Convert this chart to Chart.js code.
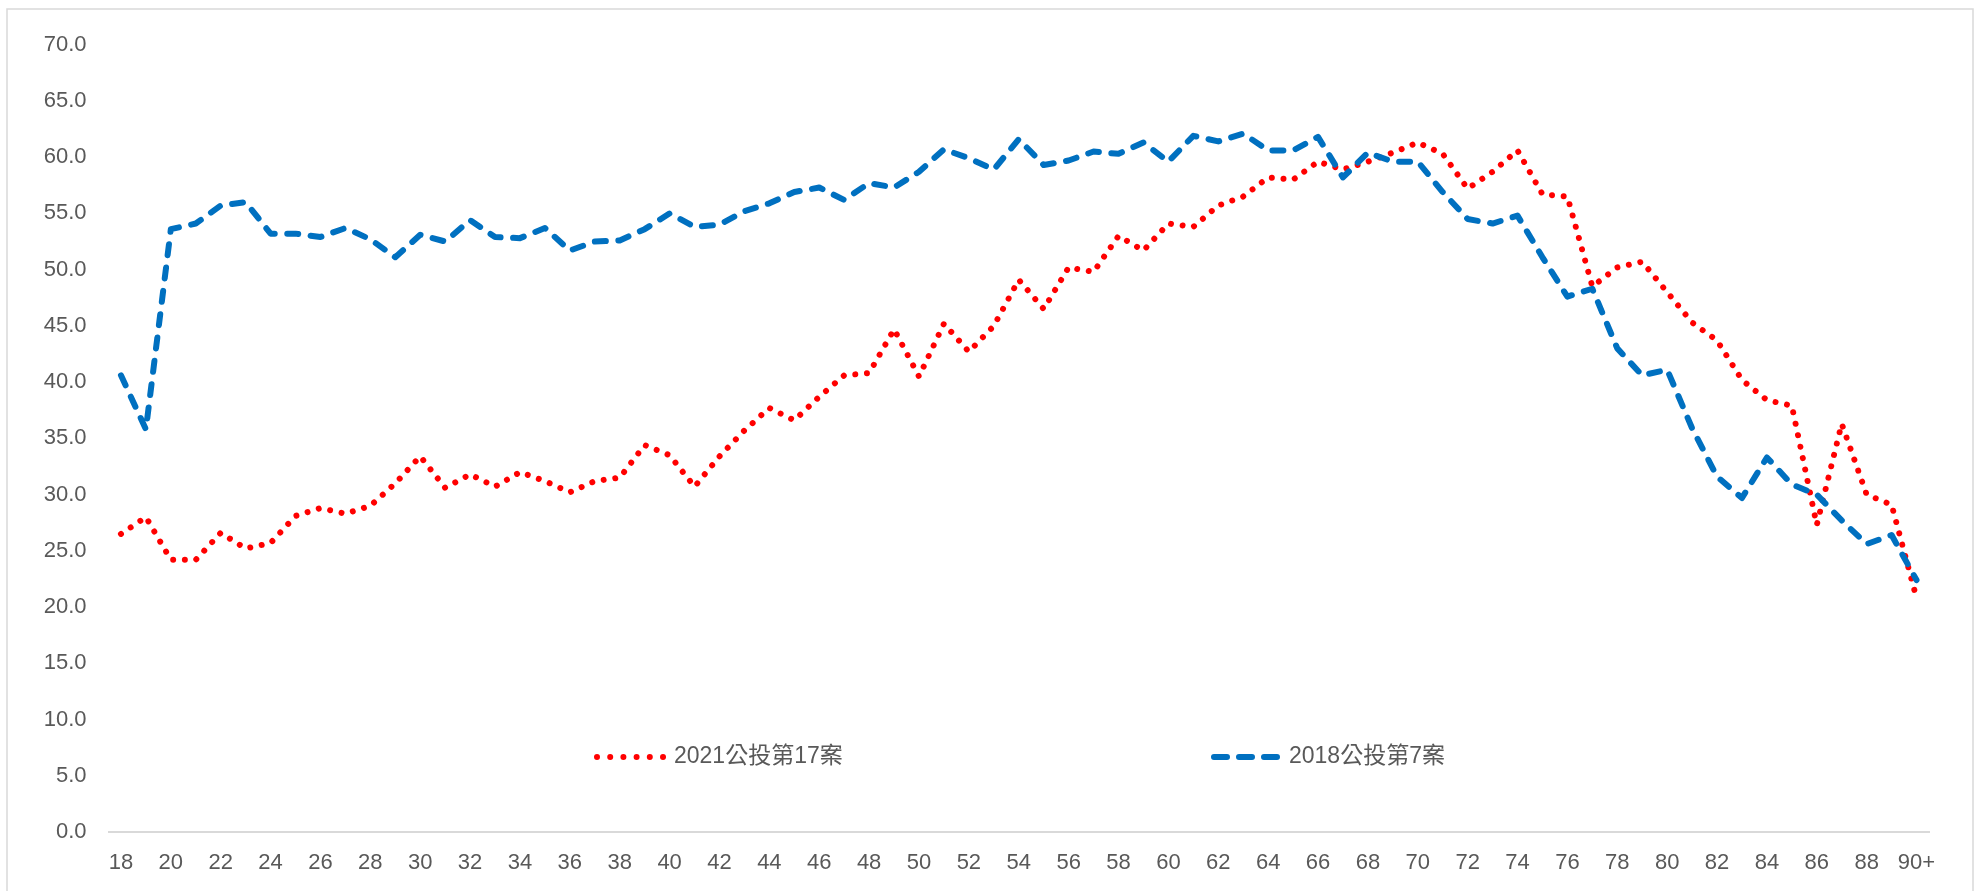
<!DOCTYPE html>
<html>
<head>
<meta charset="utf-8">
<script src="https://cdn.jsdelivr.net/npm/chart.js@4"></script>
<style>
  html, body { margin: 0; padding: 0; background: #fff; overflow: hidden; }
  #wrap { width: 1975px; height: 891px; position: relative; }
</style>
</head>
<body>
<div id="wrap"><canvas id="chart"></canvas></div>
<script>
// age groups (x categories)
const ages = ['18','19','20','21','22','23','24','25','26','27','28','29','30','31','32','33','34','35',
  '36','37','38','39','40','41','42','43','44','45','46','47','48','49','50','51','52','53',
  '54','55','56','57','58','59','60','61','62','63','64','65','66','67','68','69','70','71',
  '72','73','74','75','76','77','78','79','80','81','82','83','84','85','86','87','88','89','90+'];

const seriesNames = ['2021公投第17案', '2018公投第7案'];

// 2021 referendum case 17 (red dotted)
const vote2021 = [26.5, 28.0, 24.2, 24.2, 26.6, 25.2, 25.7, 28.1, 28.8, 28.3, 29.0, 31.0, 33.4, 30.6, 31.8, 30.7, 32.0, 31.2,
  30.2, 31.2, 31.5, 34.4, 33.5, 30.7, 33.4, 35.7, 37.7, 36.6, 38.7, 40.6, 40.8, 44.7, 40.5, 45.2, 42.7, 45.0,
  49.1, 46.5, 50.2, 49.8, 53.0, 51.7, 54.1, 53.8, 55.7, 56.5, 58.2, 58.0, 59.6, 58.9, 59.6, 60.4, 61.3, 60.3,
  57.2, 58.7, 60.6, 56.7, 56.5, 48.5, 50.2, 50.7, 48.0, 45.3, 43.7, 40.2, 38.4, 37.9, 27.3, 36.3, 30.0, 29.1, 20.8];

// 2018 referendum case 7 (blue dashed)
const vote2018 = [40.6, 35.8, 53.6, 54.1, 55.7, 56.0, 53.2, 53.2, 52.9, 53.7, 52.7, 51.1, 53.1, 52.5, 54.4, 52.9, 52.8, 53.7,
  51.7, 52.5, 52.6, 53.6, 55.0, 53.8, 54.0, 55.2, 55.9, 56.9, 57.3, 56.2, 57.7, 57.3, 58.7, 60.7, 59.9, 58.9,
  61.6, 59.3, 59.7, 60.5, 60.3, 61.3, 59.6, 61.9, 61.4, 62.1, 60.6, 60.6, 61.8, 58.2, 60.4, 59.6, 59.6, 56.9,
  54.5, 54.1, 54.8, 51.1, 47.6, 48.3, 43.0, 40.6, 41.1, 35.9, 31.6, 29.7, 33.3, 30.9, 30.0, 27.7, 25.6, 26.4, 22.4];

const RED = '#FF0000';
const BLUE = '#0070C0';
const TEXT = '#595959';
const LINE = '#D9D9D9';

// frame around whole chart
const framePlugin = {
  id: 'frame',
  beforeDraw(chart) {
    const ctx = chart.ctx;
    ctx.save();
    ctx.fillStyle = '#fff';
    ctx.fillRect(0, 0, chart.width, chart.height);
    ctx.strokeStyle = LINE;
    ctx.lineWidth = 1.5;
    ctx.strokeRect(7, 9, 1966, 900);
    ctx.restore();
  }
};

// legend drawn inside the plot area, like the original
const legendPlugin = {
  id: 'insideLegend',
  afterDraw(chart) {
    const ctx = chart.ctx;
    const y = 757;
    ctx.save();
    ctx.lineCap = 'round';

    // red dots
    ctx.strokeStyle = RED;
    ctx.lineWidth = 6;
    ctx.setLineDash([0.001, 13.2]);
    ctx.beginPath();
    ctx.moveTo(597, y);
    ctx.lineTo(664, y);
    ctx.stroke();

    // blue dashes
    ctx.strokeStyle = BLUE;
    ctx.lineWidth = 6;
    ctx.setLineDash([13, 12]);
    ctx.beginPath();
    ctx.moveTo(1214, y);
    ctx.lineTo(1277, y);
    ctx.stroke();

    ctx.setLineDash([]);
    ctx.fillStyle = TEXT;
    ctx.font = '23px "Liberation Sans", "Noto Sans CJK TC", sans-serif';
    ctx.textBaseline = 'middle';
    ctx.fillText(seriesNames[0], 674, y);
    ctx.fillText(seriesNames[1], 1289, y);
    ctx.restore();
  }
};

const ctx = document.getElementById('chart').getContext('2d');
new Chart(ctx, {
  type: 'line',
  data: {
    labels: ages,
    datasets: [
      {
        label: seriesNames[0],
        data: vote2021,
        borderColor: RED,
        backgroundColor: RED,
        borderWidth: 6,
        borderDash: [0.001, 11.7],
        borderCapStyle: 'round',
        borderJoinStyle: 'round',
        pointRadius: 0,
        tension: 0,
        fill: false,
        order: 1
      },
      {
        label: seriesNames[1],
        data: vote2018,
        borderColor: BLUE,
        backgroundColor: BLUE,
        borderWidth: 6,
        borderDash: [11, 12.5],
        borderCapStyle: 'round',
        borderJoinStyle: 'round',
        pointRadius: 0,
        tension: 0,
        fill: false,
        order: 0
      }
    ]
  },
  options: {
    responsive: true,
    maintainAspectRatio: false,
    animation: false,
    layout: {
      padding: { left: 8.5, right: 46, top: 44.7, bottom: 0 }
    },
    plugins: {
      legend: { display: false },
      tooltip: { enabled: false }
    },
    scales: {
      x: {
        offset: true,
        grid: { display: false, drawTicks: false },
        border: { display: true, color: LINE, width: 2 },
        ticks: {
          autoSkip: false,
          maxRotation: 0,
          padding: 18,
          color: TEXT,
          font: { family: '"Liberation Sans", Arial, sans-serif', size: 22 },
          callback: function(val, idx) {
            return idx % 2 === 0 ? this.getLabelForValue(val) : '';
          }
        },
        afterFit(scale) { scale.height = 59; }
      },
      y: {
        min: 0,
        max: 70,
        grid: { display: false, drawTicks: false },
        border: { display: false },
        ticks: {
          stepSize: 5,
          padding: 22,
          color: TEXT,
          font: { family: '"Liberation Sans", Arial, sans-serif', size: 22 },
          callback: v => v.toFixed(1)
        },
        afterFit(scale) { scale.width = 100; }
      }
    }
  },
  plugins: [framePlugin, legendPlugin]
});
</script>
</body>
</html>
